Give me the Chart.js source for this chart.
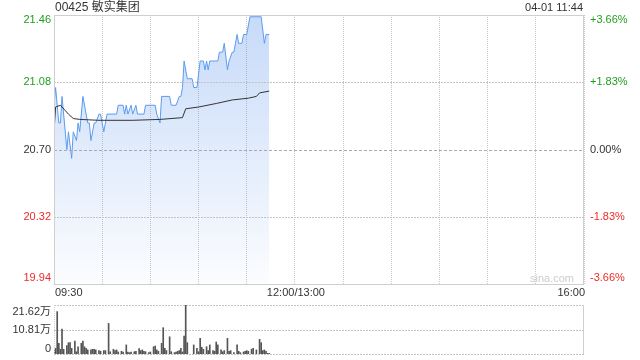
<!DOCTYPE html>
<html>
<head>
<meta charset="utf-8">
<script src="https://cdn.jsdelivr.net/npm/chart.js@4"></script>
<style>
  body { margin: 0; background: #fff; }
  #wrap { position: relative; width: 640px; height: 360px; }
  canvas { position: absolute; left: 0; }
</style>
</head>
<body>
<div id="wrap">
  <canvas id="priceChart" width="640" height="300" style="top:0"></canvas>
  <canvas id="volChart" width="640" height="60" style="top:300px"></canvas>
</div>
<script>
// minutes since 09:30 (12:00-13:00 lunch removed, 330 trading minutes)
const title = '00425 敏实集团';
const stamp = '04-01 11:44';
const prevClose = 20.70;

const priceTicks = [19.94, 20.32, 20.70, 21.08, 21.46];
const pctLabels = ['-3.66%', '-1.83%', '0.00%', '+1.83%', '+3.66%'];
const timeTicks = [0, 30, 60, 90, 120, 150, 180, 210, 240, 270, 300, 330];
const timeLabels = ['09:30', '12:00/13:00', '16:00'];
const timeLabelAt = [0, 150, 330];

const priceMin = [0, 1, 3, 4, 5, 8, 9, 11, 12, 14, 15, 16, 18, 21, 22, 23, 25, 26, 28, 29, 30, 31, 33, 39,
  40, 43, 44, 45, 46, 48, 49, 51, 52, 56, 57, 63, 64, 66, 67, 72, 73, 76, 78, 79, 80, 81, 83, 86, 87, 89,
  91, 93, 94, 95, 96, 97, 102, 103, 105, 106, 108, 109, 111, 112, 114, 115, 117, 118, 120, 122, 129, 131, 132, 134];
const priceVal = [20.95, 21.05, 20.85, 20.85, 21.00, 20.70, 20.80, 20.65, 20.80, 20.75, 20.85, 20.80, 21.00, 20.85, 20.85, 20.75, 20.85, 20.85, 20.90, 20.90, 20.85, 20.80, 20.90, 20.90,
  20.95, 20.95, 20.90, 20.95, 20.90, 20.95, 20.90, 20.95, 20.90, 20.90, 20.95, 20.95, 20.90, 20.85, 21.00, 21.00, 20.95, 20.95, 21.00, 21.00, 21.05, 21.20, 21.10, 21.10, 21.05, 21.05,
  21.20, 21.20, 21.15, 21.20, 21.15, 21.20, 21.20, 21.25, 21.25, 21.30, 21.15, 21.20, 21.25, 21.25, 21.35, 21.30, 21.30, 21.35, 21.35, 21.45, 21.45, 21.30, 21.35, 21.35];

const avgMin = [0, 1, 4, 7, 9, 12, 16, 28, 49, 66, 80, 82, 90, 101, 111, 121, 126, 128, 134];
const avgVal = [20.80, 20.94, 20.95, 20.92, 20.90, 20.875, 20.87, 20.865, 20.865, 20.87, 20.88, 20.93, 20.94, 20.96, 20.98, 20.99, 21.00, 21.02, 21.03];

const volTicks = [0, 108100, 216200];
const volLabels = ['0', '10.81万', '21.62万'];
const volMin = [0, 1, 2, 3, 4, 5, 6, 8, 9, 10, 11, 13, 14, 15, 17, 18, 19, 20, 21, 23, 24, 25, 26, 28, 29, 31, 32,
  34, 35, 37, 38, 39, 40, 42, 43, 45, 46, 47, 48, 50, 51, 53, 54, 55, 56, 57, 59, 60, 62, 63, 64, 65, 67, 68, 69, 70,
  72, 73, 75, 76, 77, 78, 79, 80, 81, 82, 83, 87, 89, 90, 91, 92, 93, 95, 96, 97, 99, 100, 101, 102, 104, 105, 106,
  108, 109, 110, 112, 114, 115, 116, 118, 119, 120, 121, 123, 124, 126, 128, 129, 130, 131, 132, 133, 134];
const volVal = [15000, 25000, 187000, 47000, 21000, 110000, 21000, 37000, 50000, 50000, 25000, 57000, 10000, 32000, 47000, 57000, 32000, 25000, 18000, 18000, 21000, 21000, 18000, 15000, 12000, 15000, 15000,
  135000, 10000, 21000, 15000, 18000, 9000, 12000, 9000, 40000, 9000, 6000, 9000, 10000, 12000, 24000, 15000, 18000, 12000, 10000, 6000, 9000, 32000, 35000, 18000, 12000, 47000, 116000, 25000, 15000,
  76000, 10000, 6000, 9000, 12000, 15000, 25000, 9000, 79000, 216200, 50000, 40000, 25000, 10000, 69000, 30000, 21000, 32000, 15000, 40000, 15000, 12000, 53000, 40000, 18000, 10000, 15000,
  69000, 12000, 15000, 6000, 40000, 12000, 6000, 9000, 12000, 15000, 12000, 21000, 25000, 18000, 65000, 50000, 15000, 18000, 12000, 3000, 3000];

const GREEN = '#1f9e1f';
const RED = '#ee2b2b';
const DARK = '#333';
const FONT = '11px "Liberation Sans", Arial, "Noto Sans CJK SC", sans-serif';

function toXY(xs, ys) {
  return xs.map((x, i) => ({x: x, y: ys[i]}));
}

// dotted horizontal guide lines, placed with the y scale
function hLines(chart, scale, ticks, styleFor) {
  const {ctx, chartArea: a} = chart;
  ticks.forEach((v) => {
    const st = styleFor(v);
    const y = Math.round(scale.getPixelForValue(v)) + 0.5;
    ctx.save();
    ctx.strokeStyle = st.color;
    ctx.lineWidth = 1;
    ctx.setLineDash(st.dash);
    ctx.beginPath();
    ctx.moveTo(a.left, y);
    ctx.lineTo(a.right, y);
    ctx.stroke();
    ctx.restore();
  });
}

const priceLabels = {
  id: 'priceLabels',
  afterDatasetsDraw(chart) {
    hLines(chart, chart.scales.y, [priceTicks[1], priceTicks[3]], () => ({color: '#c4c4c4', dash: [2, 1]}));
    hLines(chart, chart.scales.y, [prevClose], () => ({color: '#aaaaaa', dash: [3, 2]}));
  },
  afterDraw(chart) {
    const {ctx, chartArea: a, scales} = chart;
    ctx.save();
    ctx.strokeStyle = '#cfcfcf';
    ctx.lineWidth = 1;
    ctx.strokeRect(a.left + 0.5, a.top + 0.5, a.right - a.left - 1, a.bottom - a.top);

    ctx.font = '12px "Liberation Sans", Arial, "Noto Sans CJK SC", sans-serif';
    ctx.fillStyle = DARK;
    ctx.textBaseline = 'middle';
    ctx.textAlign = 'left';
    ctx.fillText(title, 55, 8);
    ctx.font = FONT;
    ctx.textAlign = 'right';
    ctx.fillText(stamp, 583, 8);

    priceTicks.forEach((v, i) => {
      let y = scales.y.getPixelForValue(v);
      if (i === 0) y -= 6;
      if (i === priceTicks.length - 1) y += 5;
      const col = v > prevClose ? GREEN : (v < prevClose ? RED : DARK);
      ctx.fillStyle = col;
      ctx.textAlign = 'right';
      ctx.fillText(v.toFixed(2), 51, y);
      ctx.textAlign = 'left';
      ctx.fillText(pctLabels[i], 590, y);
    });

    ctx.fillStyle = DARK;
    timeLabels.forEach((t, i) => {
      const x = scales.x.getPixelForValue(timeLabelAt[i]);
      ctx.textAlign = i === 0 ? 'left' : (i === timeLabels.length - 1 ? 'right' : 'center');
      ctx.fillText(t, x + 1, 293);
    });

    ctx.fillStyle = '#cdcdcd';
    ctx.textAlign = 'right';
    ctx.fillText('sina.com', 574, 279);
    ctx.restore();
  }
};

const priceChart = new Chart(document.getElementById('priceChart'), {
  type: 'line',
  data: {
    datasets: [{
      label: 'avg',
      data: toXY(avgMin, avgVal),
      borderColor: '#333',
      borderWidth: 1,
      pointRadius: 0,
      fill: false,
      tension: 0
    }, {
      label: 'price',
      data: toXY(priceMin, priceVal),
      borderColor: '#5b9bf0',
      borderWidth: 1,
      pointRadius: 0,
      tension: 0,
      fill: 'start',
      backgroundColor: (c) => {
        const area = c.chart.chartArea;
        if (!area) return 'rgba(80,140,235,0.2)';
        const g = c.chart.ctx.createLinearGradient(0, area.top, 0, area.bottom);
        g.addColorStop(0, 'rgba(80,140,235,0.32)');
        g.addColorStop(1, 'rgba(80,140,235,0.02)');
        return g;
      }
    }]
  },
  options: {
    responsive: false,
    animation: false,
    layout: { padding: { left: 54, right: 56, top: 15, bottom: 16 } },
    plugins: { legend: { display: false }, tooltip: { enabled: false } },
    scales: {
      x: {
        type: 'linear', min: 0, max: 330,
        afterBuildTicks: (s) => { s.ticks = timeTicks.map(v => ({value: v})); },
        ticks: { display: false },
        grid: { color: '#c8c8c8', drawTicks: false },
        border: { display: false, dash: [1, 1] }
      },
      y: {
        min: 19.94, max: 21.46,
        afterBuildTicks: (s) => { s.ticks = priceTicks.map(v => ({value: v})); },
        ticks: { display: false },
        grid: { display: false, drawTicks: false },
        border: { display: false }
      }
    }
  },
  plugins: [priceLabels]
});

const volFrame = {
  id: 'volFrame',
  beforeDatasetsDraw(chart) {
    hLines(chart, chart.scales.y, volTicks, () => ({color: '#c4c4c4', dash: [2, 1]}));
  },
  afterDraw(chart) {
    const {ctx, chartArea: a, scales} = chart;
    ctx.save();
    ctx.strokeStyle = '#cfcfcf';
    ctx.lineWidth = 1;
    ctx.beginPath();
    ctx.moveTo(a.right - 0.5, a.top);
    ctx.lineTo(a.right - 0.5, a.bottom);
    ctx.stroke();
    ctx.setLineDash([1, 1]);
    ctx.beginPath();
    ctx.moveTo(a.left + 0.5, a.top);
    ctx.lineTo(a.left + 0.5, a.bottom);
    ctx.stroke();

    ctx.font = FONT;
    ctx.fillStyle = DARK;
    ctx.textAlign = 'right';
    ctx.textBaseline = 'middle';
    volTicks.forEach((v, i) => {
      let y = scales.y.getPixelForValue(v);
      if (i === 0) y -= 5;
      if (i === volTicks.length - 1) y += 7;
      ctx.fillText(volLabels[i], 51, y);
    });
    ctx.restore();
  }
};

const volChart = new Chart(document.getElementById('volChart'), {
  type: 'bar',
  data: {
    datasets: [{
      data: toXY(volMin, volVal),
      backgroundColor: '#555',
      barThickness: 1
    }]
  },
  options: {
    responsive: false,
    animation: false,
    layout: { padding: { left: 54, right: 56, top: 5, bottom: 6 } },
    plugins: { legend: { display: false }, tooltip: { enabled: false } },
    scales: {
      x: {
        type: 'linear', min: 0, max: 330, offset: false,
        ticks: { display: false },
        grid: { display: false, drawTicks: false },
        border: { display: false }
      },
      y: {
        min: 0, max: 216200,
        afterBuildTicks: (s) => { s.ticks = volTicks.map(v => ({value: v})); },
        ticks: { display: false },
        grid: { display: false, drawTicks: false },
        border: { display: false }
      }
    }
  },
  plugins: [volFrame]
});
</script>
</body>
</html>
